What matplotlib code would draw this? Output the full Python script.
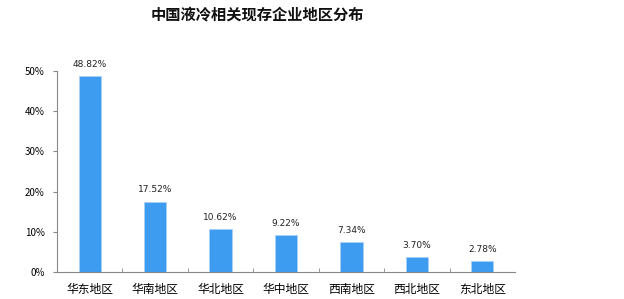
import matplotlib
matplotlib.use("Agg")
import matplotlib.pyplot as plt
from matplotlib.ticker import PercentFormatter

plt.rcParams['font.family'] = ['Noto Sans CJK SC', 'DejaVu Sans']

regions = ['华东地区', '华南地区', '华北地区', '华中地区', '西南地区', '西北地区', '东北地区']
shares = [48.82, 17.52, 10.62, 9.22, 7.34, 3.70, 2.78]
yticks = [0, 10, 20, 30, 40, 50]

fig = plt.figure(figsize=(6.24, 2.99), dpi=100)
ax = fig.add_axes([0.0913, 0.0903, 0.7340, 0.6722])

x = list(range(len(regions)))
ax.bar(x, shares, width=0.34, color='#3d9bf0', edgecolor='#a8d0f8', linewidth=0.6)
for xi, v in zip(x, shares):
    ax.text(xi, v + 1.8, f'{v:.2f}%', ha='center', va='bottom', fontsize=6.5,
            family='DejaVu Sans', color='#222222')

ax.set_xlim(-0.5, len(regions) - 0.5)
ax.set_ylim(0, 50)
ax.set_yticks(yticks)
ax.yaxis.set_major_formatter(PercentFormatter(decimals=0))
ax.set_xticks(x)
ax.set_xticklabels(regions, fontsize=8.5)
ax.set_xticks([i + 0.5 for i in x[:-1]], minor=True)
ax.tick_params(axis='x', which='major', length=0, pad=8)
ax.tick_params(axis='x', which='minor', length=3, color='#888888', direction='in')
ax.tick_params(axis='y', labelsize=7, length=3, color='#888888', pad=6)
for s in ['top', 'right']:
    ax.spines[s].set_visible(False)
for s in ['left', 'bottom']:
    ax.spines[s].set_color('#888888')
    ax.spines[s].set_linewidth(0.8)

fig.text(0.412, 0.95, '中国液冷相关现存企业地区分布', ha='center', va='center',
         fontsize=11, fontweight='bold', color='#111111')

fig.savefig('out.png', dpi=100)
